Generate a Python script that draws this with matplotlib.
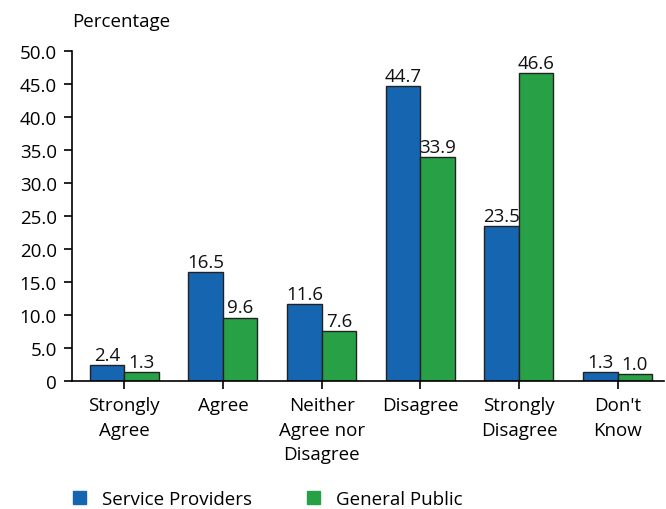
import matplotlib
matplotlib.use("Agg")
import matplotlib.pyplot as plt
import numpy as np
from matplotlib.patches import Patch

categories = ["Strongly\nAgree", "Agree", "Neither\nAgree nor\nDisagree", "Disagree", "Strongly\nDisagree", "Don't\nKnow"]
service_providers = [2.4, 16.5, 11.6, 44.7, 23.5, 1.3]
general_public = [1.3, 9.6, 7.6, 33.9, 46.6, 1.0]
yticks = [0, 5, 10, 15, 20, 25, 30, 35, 40, 45, 50]
ytick_labels = ["0", "5.0", "10.0", "15.0", "20.0", "25.0", "30.0", "35.0", "40.0", "45.0", "50.0"]
series_names = ["Service Providers", "General Public"]

blue = "#1565b0"
green = "#27a046"
edge = "#222222"
fs = 13.5

plt.rcParams['font.family'] = ['Open Sans', 'DejaVu Sans']

fig = plt.figure(figsize=(6.66, 5.10), dpi=100)
ax = fig.add_axes([72/666, 1-382/510, (664-72)/666, (382-52)/510])

x = np.arange(len(categories))
w = 0.35
b1 = ax.bar(x - w/2, service_providers, w, color=blue, edgecolor=edge, linewidth=1)
b2 = ax.bar(x + w/2, general_public, w, color=green, edgecolor=edge, linewidth=1)
for bars, vals in ((b1, service_providers), (b2, general_public)):
    for r, v in zip(bars, vals):
        ax.text(r.get_x() + r.get_width()/2, v + 0.2, f"{v:.1f}", ha='center', va='bottom',
                fontsize=fs, color='#111111')

ax.set_xlim(-0.53, 5.47)
ax.set_ylim(0, 50)
ax.set_yticks(yticks)
ax.set_yticklabels(ytick_labels, fontsize=fs)
ax.set_xticks(x)
ax.set_xticklabels(categories, fontsize=fs, linespacing=1.45)
ax.spines['top'].set_visible(False)
ax.spines['right'].set_visible(False)
ax.spines['left'].set_linewidth(1.2)
ax.spines['bottom'].set_linewidth(1.2)
ax.tick_params(axis='y', direction='out', length=6, width=1.2, pad=5)
ax.tick_params(axis='x', direction='out', length=6, width=1.2, pad=5)

fig.text(72/666, 1-22/510, "Percentage", fontsize=fs, ha='left', va='center')

handles = [Patch(facecolor=blue, edgecolor=blue), Patch(facecolor=green, edgecolor=green)]
fig.legend(handles, series_names, loc='center left',
           bbox_to_anchor=(67/666, 1-500/510), ncol=2, frameon=False, fontsize=fs,
           handlelength=0.7, handleheight=0.7, columnspacing=2.95, handletextpad=0.85,
           borderaxespad=0, borderpad=0.3)

fig.savefig("out.png", dpi=100)
